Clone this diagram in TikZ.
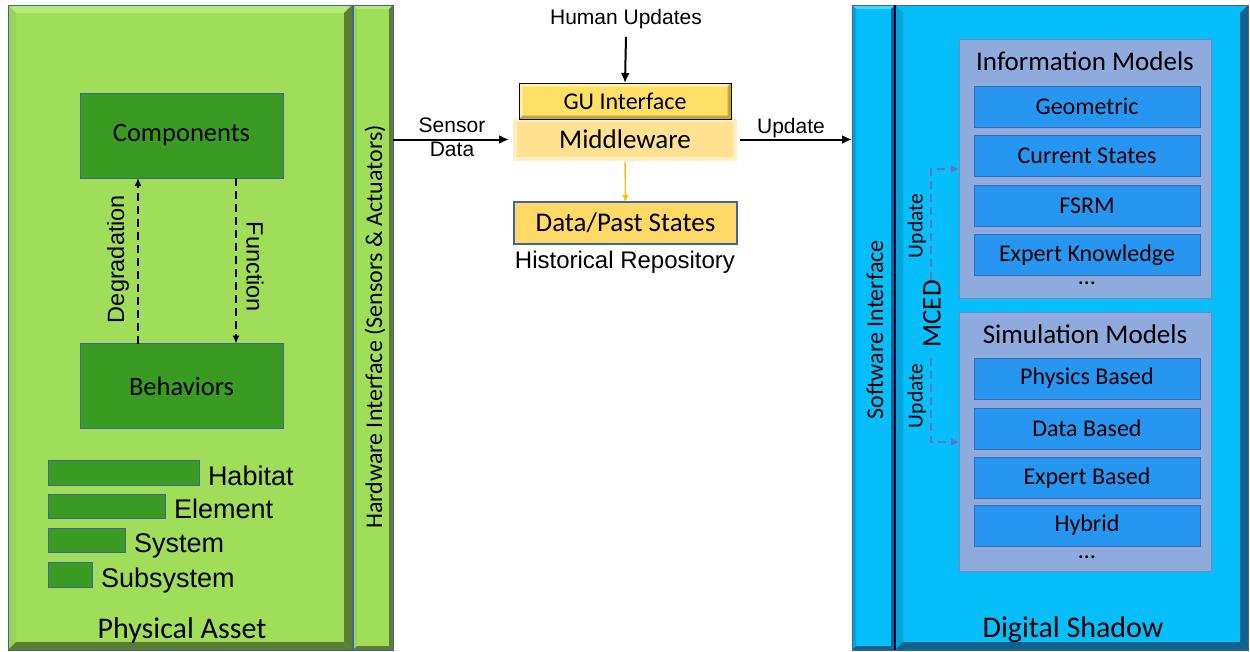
\documentclass[tikz,border=0pt]{standalone}
\usepackage{fontspec}
\setmainfont{Carlito}
\newfontfamily\arial{Liberation Sans}
\usetikzlibrary{arrows.meta,calc}

\definecolor{pagreen}{RGB}{160,222,90}
\definecolor{palight}{RGB}{180,234,118}
\definecolor{pamid}{RGB}{150,212,82}
\definecolor{padark}{RGB}{92,125,52}
\definecolor{compgreen}{RGB}{58,155,34}
\definecolor{boxline}{RGB}{65,100,160}
\definecolor{dsblue}{RGB}{5,190,250}
\definecolor{dslight}{RGB}{70,215,255}
\definecolor{dsmid}{RGB}{0,165,220}
\definecolor{dsdark}{RGB}{12,100,140}
\definecolor{panel}{RGB}{143,170,220}
\definecolor{panelline}{RGB}{110,135,190}
\definecolor{itemblue}{RGB}{38,150,240}
\definecolor{itemline}{RGB}{60,105,175}
\definecolor{guyellow}{RGB}{255,224,102}
\definecolor{gulight}{RGB}{255,240,160}
\definecolor{gudark}{RGB}{200,165,45}
\definecolor{mwyellow}{RGB}{255,225,145}
\definecolor{mwsoft}{RGB}{255,238,195}
\definecolor{dpyellow}{RGB}{255,217,102}
\definecolor{arrowyellow}{RGB}{250,190,20}
\definecolor{mcedline}{RGB}{95,115,205}

% bevel: #1 node, #2 width, #3 top, #4 left, #5 right, #6 bottom, #7 outline
\newcommand{\bevelbox}[7]{%
  \fill[#3] (#1.north west) -- (#1.north east) -- ($(#1.north east)+(-#2,#2)$) -- ($(#1.north west)+(#2,#2)$) -- cycle;
  \fill[#4] (#1.north west) -- ($(#1.north west)+(#2,#2)$) -- ($(#1.south west)+(#2,-#2)$) -- (#1.south west) -- cycle;
  \fill[#5] (#1.north east) -- (#1.south east) -- ($(#1.south east)+(-#2,-#2)$) -- ($(#1.north east)+(-#2,#2)$) -- cycle;
  \fill[#6] (#1.south west) -- (#1.south east) -- ($(#1.south east)+(-#2,-#2)$) -- ($(#1.south west)+(#2,-#2)$) -- cycle;
  \draw[#7,line width=0.8pt] (#1.north west) rectangle (#1.south east);
}

\begin{document}
\begin{tikzpicture}[x=1pt,y=-1pt,
  every node/.style={inner sep=0pt,outer sep=0pt},
  framebox/.style={rectangle},
  greenbox/.style={draw=boxline,line width=0.9pt,fill=compgreen,minimum width=203pt,minimum height=85pt,font=\fontsize{26.5}{30}\selectfont},
  levelbar/.style={draw=boxline,line width=0.9pt,fill=compgreen,minimum height=24.5pt},
  leveltxt/.style={anchor=base west,font=\arial\fontsize{27}{30}\selectfont},
  itembox/.style={draw=itemline,line width=1pt,fill=itemblue,minimum width=226pt,minimum height=41pt,font=\fontsize{24}{28}\selectfont},
  panelbox/.style={draw=panelline,line width=1pt,fill=panel,minimum width=252pt,minimum height=259pt},
  paneltitle/.style={anchor=base,font=\fontsize{27}{30}\selectfont},
  arialtxt/.style={font=\arial\fontsize{21}{25}\selectfont},
  dasharrow/.style={dash pattern=on 8pt off 5pt,line width=1.4pt,-{Latex[length=8pt,width=7pt]}},
  mcedarrow/.style={color=mcedline,dash pattern=on 8pt off 5pt,line width=1.8pt,-{Latex[length=8pt,width=8pt]}},
  blackarrow/.style={line width=2pt,-{Latex[length=10pt,width=9pt]}},
  bigtitle/.style={anchor=base,font=\fontsize{30}{34}\selectfont}
]
\useasboundingbox (0,0) rectangle (1250,651);

% ---------- Physical asset ----------
\node[framebox,fill=pagreen,minimum width=344pt,minimum height=645pt] (pa) at (180,327.5) {};
\bevelbox{pa}{8}{palight}{pamid}{padark}{padark}{boxline}
\node[framebox,fill=pagreen,minimum width=40pt,minimum height=645pt] (hw) at (373,327.5) {};
\bevelbox{hw}{4}{palight}{pamid}{padark}{padark}{boxline}
\node[rotate=90,font=\fontsize{24}{28}\selectfont] (hwtxt) at (375,327) {Hardware Interface (Sensors \& Actuators)};

\node[greenbox] (comp) at (181.5,135.5) {Components};
\node[greenbox] (beh) at (181.5,386) {Behaviors};
\draw[dasharrow] ([xshift=-43.5pt]beh.north) -- ([xshift=-43.5pt]comp.south);
\draw[dasharrow] ([xshift=54.5pt]comp.south) -- ([xshift=54.5pt]beh.north);
\node[rotate=90,font=\arial\fontsize{23.5}{27}\selectfont] (deg) at (118,259) {Degradation};
\node[rotate=-90,font=\arial\fontsize{23.5}{27}\selectfont] (fun) at (255,267) {Function};

\node[levelbar,minimum width=151pt] (bar1) at (123.5,473) {};
\node[levelbar,minimum width=117pt] (bar2) at (106.5,506.5) {};
\node[levelbar,minimum width=77pt] (bar3) at (86.5,540.5) {};
\node[levelbar,minimum width=44pt] (bar4) at (70,575) {};
\node[leveltxt] (hab) at ($(bar1.south east)+(9,0)$) {Habitat};
\node[leveltxt] (ele) at ($(bar2.south east)+(9,0)$) {Element};
\node[leveltxt] (sys) at ($(bar3.south east)+(9,0)$) {System};
\node[leveltxt] (sub) at ($(bar4.south east)+(9,0)$) {Subsystem};
\node[bigtitle] (patxt) at (182,638) {Physical Asset};

% ---------- Middle ----------
\node[arialtxt] (hu) at (626,19) {Human Updates};
\node[framebox,fill=mwsoft,minimum width=224pt,minimum height=42pt] (mwglow) at (625,139.5) {};
\node[framebox,fill=mwyellow,minimum width=216pt,minimum height=35pt,font=\fontsize{27}{30}\selectfont] (mw) at (625,139.5) {Middleware};
\node[framebox,fill=guyellow,minimum width=212pt,minimum height=36pt] (gu) at (625,101) {};
\bevelbox{gu}{3.5}{gulight}{gulight}{gudark}{gudark}{black!70!blue}
\node[font=\fontsize{24}{28}\selectfont] (gutxt) at (gu) {GU Interface};
\draw[blackarrow] ([yshift=-8pt]hu.south) -- (gu.north);

\node[draw=boxline,line width=1.2pt,fill=dpyellow,minimum width=223pt,minimum height=42pt,font=\fontsize{27}{30}\selectfont] (dp) at (625.5,223) {Data/Past States};
\node[anchor=base,font=\arial\fontsize{24}{28}\selectfont] (hist) at (625,268) {Historical Repository};
\draw[line width=1.4pt,arrowyellow,-{Latex[length=7pt,width=7pt]}] ([yshift=-1pt]mwglow.south) -- (dp.north);

% ---------- Digital shadow ----------
\node[framebox,fill=dsblue,minimum width=43pt,minimum height=645pt] (si) at (873.5,327.5) {};
\bevelbox{si}{4}{dslight}{dsmid}{dsdark}{dsdark}{boxline}
\node[framebox,fill=dsblue,minimum width=353pt,minimum height=645pt] (ds) at (1071.5,327.5) {};
\bevelbox{ds}{8}{dsblue}{dsmid}{dsdark}{dsdark}{boxline}
\draw[line width=2.5pt,black!80!blue] (si.north east) -- (si.south east);
\node[rotate=90,font=\fontsize{24}{28}\selectfont] (sitxt) at (875,330) {Software Interface};

\draw[blackarrow] (hw.east |- mw.west) -- ([xshift=-4pt]mwglow.west);
\node[arialtxt,align=center] (sd) at (452,137.5) {Sensor\\[-1pt]Data};
\draw[blackarrow] ([xshift=3pt]mwglow.east) -- (si.west |- mw.east);
\node[arialtxt,anchor=base] (upd) at (791,133) {Update};

\node[panelbox] (info) at (1085,168.5) {};
\node[paneltitle] (infot) at (1085,70) {Information Models};
\node[itembox] (geo) at (1087,106.5) {Geometric};
\node[itembox] (cur) at (1087,156) {Current States};
\node[itembox] (fsrm) at (1087,206) {FSRM};
\node[itembox] (exk) at (1087,255) {Expert Knowledge};
\node[font=\fontsize{24}{28}\selectfont] (dots1) at (1087,283) {\dots};

\node[panelbox] (sim) at (1085,441.5) {};
\node[paneltitle] (simt) at (1085,343) {Simulation Models};
\node[itembox] (phy) at (1087,378.5) {Physics Based};
\node[itembox] (dab) at (1087,428.5) {Data Based};
\node[itembox] (exb) at (1087,478) {Expert Based};
\node[itembox] (hyb) at (1087,525.5) {Hybrid};
\node[font=\fontsize{24}{28}\selectfont] (dots2) at (1087,557) {\dots};

\node[rotate=90,font=\fontsize{27}{30}\selectfont] (mced) at (932,314) {MCED};
\node[rotate=90,font=\fontsize{21.5}{25}\selectfont] (up1) at (917,226) {Update};
\node[rotate=90,font=\fontsize{21.5}{25}\selectfont] (up2) at (917,396) {Update};
\coordinate (in1) at (959,169);
\coordinate (in2) at (959,442);
\draw[mcedarrow] ([xshift=-1pt]mced.east) |- (in1);
\draw[mcedarrow] ([xshift=-1pt,yshift=-10pt]mced.west) |- (in2);

\node[bigtitle] (dstxt) at (1073,637) {Digital Shadow};
\end{tikzpicture}
\end{document}
